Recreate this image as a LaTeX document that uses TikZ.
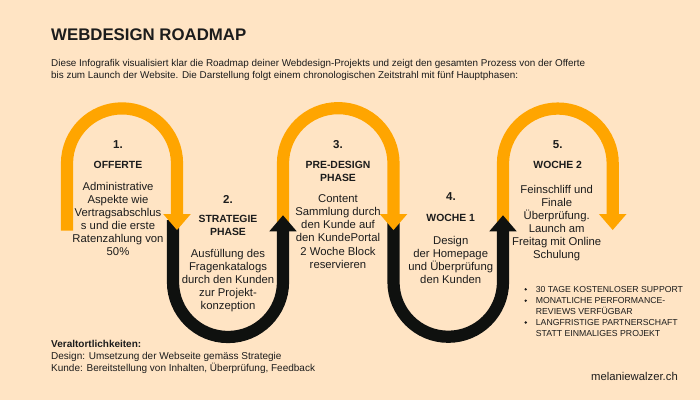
\documentclass[tikz,border=0pt]{standalone}
\usepackage{fontspec}
\setmainfont{Liberation Sans}
\usetikzlibrary{math}
\definecolor{pagebg}{HTML}{FFE4C4}
\definecolor{roadorange}{HTML}{FFA500}
\definecolor{roadblack}{HTML}{0F110F}
\definecolor{inktext}{HTML}{1C1C1C}
\tikzset{
  road/.style={line width=12.2pt},
  numtext/.style={font=\fontsize{11.5}{13}\selectfont\bfseries,text=inktext,inner sep=0pt},
  headtext/.style={font=\fontsize{10.4}{13}\selectfont\bfseries,text=inktext,align=center,inner sep=0pt},
  bodytext/.style={font=\fontsize{11.3}{13.15}\selectfont,text=inktext,align=center,inner sep=0pt},
  sidetext/.style={font=\fontsize{8.7}{11}\selectfont,text=inktext,align=left,anchor=west,inner sep=0pt},
  plaintext/.style={font=\fontsize{9.88}{12}\selectfont,text=inktext,align=left,anchor=west,inner sep=0pt}
}
\begin{document}
\begin{tikzpicture}[x=1pt,y=1pt]
  \fill[pagebg] (0,0) rectangle (700,400);
  \useasboundingbox (0,0) rectangle (700,400);

  \foreach \cx/\lowy/\rx in {122/169.3/177, 338/175/393.5, 558/175/612.7} {
    \tikzmath{
      real \lx;
      real \rad;
      \lx = \cx - 55;
      \rad = (\rx - \lx) / 2;
    }
    \draw[road,roadorange] (\lx,\lowy) -- (\lx,236.6) arc[start angle=180,end angle=0,radius=\rad] -- (\rx,180);
  }

  \foreach \cx/\lx/\rx in {228/173/283, 448/393.5/503} {
    \tikzmath{
      real \rad;
      \rad = (\rx - \lx) / 2;
    }
    \draw[road,roadblack] (\lx,180) -- (\lx,118) arc[start angle=180,end angle=360,radius=\rad] -- (\rx,175);
  }

  \foreach \tx in {177,393.5,612.7} {
    \fill[roadorange] (\tx-13.8,186) -- (\tx+13.8,186) -- (\tx,170) -- cycle;
  }
  \foreach \tx in {283,503} {
    \fill[roadblack] (\tx-13.7,168.7) -- (\tx+13.7,168.7) -- (\tx,184.7) -- cycle;
  }

  \node[font=\fontsize{16.8}{20}\selectfont\bfseries,text=inktext,anchor=west,inner sep=0pt] (title) at (51,365) {WEBDESIGN ROADMAP};
  \node[plaintext] (intro) at (51,330.5) {Diese Infografik visualisiert klar die Roadmap deiner Webdesign-Projekts und zeigt den gesamten Prozess von der Offerte\\bis zum Launch der Website. Die Darstellung folgt einem chronologischen Zeitstrahl mit fünf Hauptphasen:};

  \node[numtext] (num1) at (118,255) {1.};
  \node[headtext] (head1) at (118,235) {OFFERTE};
  \node[bodytext] (body1) at (118,181) {Administrative\\Aspekte wie\\Vertragsabschlus\\s und die erste\\Ratenzahlung von\\50\%};

  \node[numtext] (num2) at (228,201) {2.};
  \node[headtext] (head2) at (228,174.5) {STRATEGIE\\PHASE};
  \node[bodytext] (body2) at (228,119.5) {Ausfüllung des\\Fragenkatalogs\\durch den Kunden\\zur Projekt-\\konzeption};

  \node[numtext] (num3) at (338,255) {3.};
  \node[headtext] (head3) at (338,228.5) {PRE-DESIGN\\PHASE};
  \node[bodytext] (body3) at (338,168.5) {Content\\Sammlung durch\\den Kunde auf\\den KundePortal\\2 Woche Block\\reservieren};

  \node[numtext] (num4) at (451,203) {4.};
  \node[headtext] (head4) at (450.7,182) {WOCHE 1};
  \node[bodytext] (body4) at (450.7,140) {Design\\der Homepage\\und Überprüfung\\den Kunden};

  \node[numtext] (num5) at (557.7,255) {5.};
  \node[headtext] (head5) at (557.7,235) {WOCHE 2};
  \node[bodytext] (body5) at (556.7,177) {Feinschliff und\\Finale\\Überprüfung.\\Launch am\\Freitag mit Online\\Schulung};

  \node[sidetext] (side1) at (535.7,110.7) {30 TAGE KOSTENLOSER SUPPORT};
  \node[sidetext] (side2) at (535.7,94) {MONATLICHE PERFORMANCE-\\REVIEWS VERFÜGBAR};
  \node[sidetext] (side3) at (535.7,72) {LANGFRISTIGE PARTNERSCHAFT\\STATT EINMALIGES PROJEKT};
  \foreach \by in {110.7,99.3,77.5} {
    \fill[inktext] (525.7,\by) circle (1.3);
  }

  \node[plaintext,font=\fontsize{10}{11.9}\selectfont] (duties) at (51,43) {\textbf{Veraltortlichkeiten:}\\Design: Umsetzung der Webseite gemäss Strategie\\Kunde: Bereitstellung von Inhalten, Überprüfung, Feedback};
  \node[font=\fontsize{11.3}{13}\selectfont,text=inktext,anchor=east,inner sep=0pt] (site) at (678,24) {melaniewalzer.ch};
\end{tikzpicture}
\end{document}
